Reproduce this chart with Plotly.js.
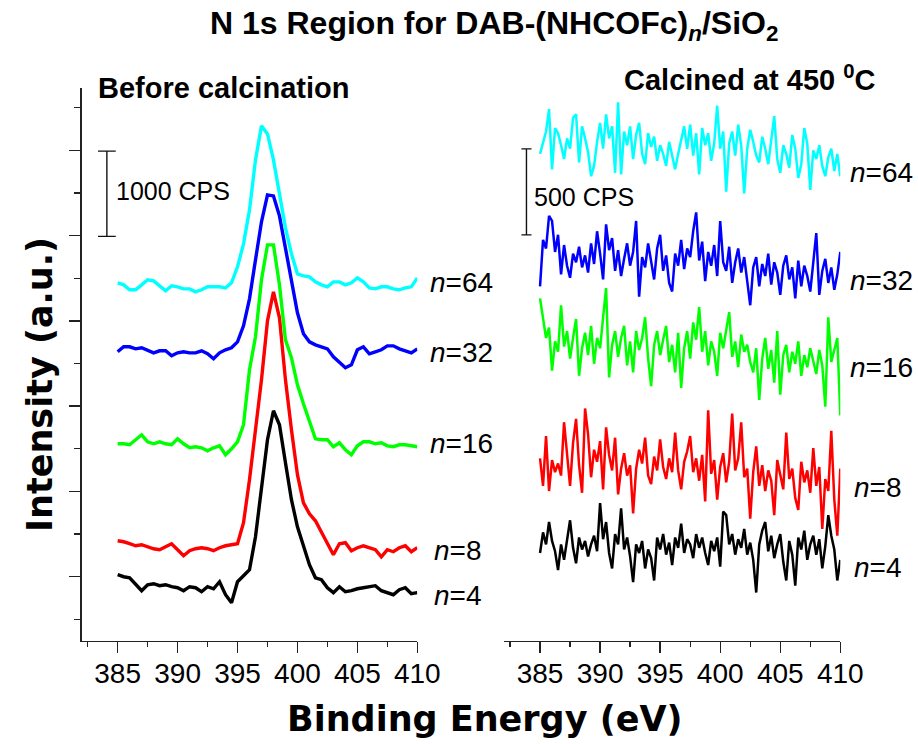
<!DOCTYPE html>
<html>
<head>
<meta charset="utf-8">
<script src="https://cdn.plot.ly/plotly-3.0.1.min.js"></script>
<style>html,body{margin:0;padding:0;background:#fff;}#chart{width:918px;height:744px;}</style>
</head>
<body>
<div id="chart"></div>
<script>
// ---------------- DATA ----------------
// Binding energy grids (eV)
const energyBefore = [385,385.5,386,386.5,387,387.5,388,388.5,389,389.5,390,390.5,391,391.5,392,392.5,393,393.5,394,394.5,395,395.5,396,396.5,397,397.5,398,398.5,399,399.5,400,400.5,401,401.5,402,402.5,403,403.5,404,404.5,405,405.5,406,406.5,407,407.5,408,408.5,409,409.5,410];
const energyCalcined = [385,385.25,385.5,385.75,386,386.25,386.5,386.75,387,387.25,387.5,387.75,388,388.25,388.5,388.75,389,389.25,389.5,389.75,390,390.25,390.5,390.75,391,391.25,391.5,391.75,392,392.25,392.5,392.75,393,393.25,393.5,393.75,394,394.25,394.5,394.75,395,395.25,395.5,395.75,396,396.25,396.5,396.75,397,397.25,397.5,397.75,398,398.25,398.5,398.75,399,399.25,399.5,399.75,400,400.25,400.5,400.75,401,401.25,401.5,401.75,402,402.25,402.5,402.75,403,403.25,403.5,403.75,404,404.25,404.5,404.75,405,405.25,405.5,405.75,406,406.25,406.5,406.75,407,407.25,407.5,407.75,408,408.25,408.5,408.75,409,409.25,409.5,409.75,410];

const seriesNames = ["n=4","n=8","n=16","n=32","n=64"];
const seriesLabels = ["<i>n</i>=4","<i>n</i>=8","<i>n</i>=16","<i>n</i>=32","<i>n</i>=64"];
const seriesColors = ["#000000","#ff0000","#00ff00","#0000ff","#00ffff"];

// Before calcination (CPS, stacked with offsets)
const before_n4 = [774,750,738,668,586,656,668,645,656,633,621,586,633,621,574,633,609,691,539,445,691,762,832,1219,1781,2356,2696,2532,2086,1653,1336,1102,891,738,715,621,563,633,574,586,609,621,633,645,586,563,539,598,621,551,563];
const before_n8 = [1172,1160,1137,1113,1125,1102,1078,1067,1102,1137,1067,996,1055,1078,1090,1078,1055,1090,1113,1125,1137,1383,1887,2473,3059,3750,4090,3786,3059,2473,1946,1617,1488,1406,1277,1149,1008,1137,1149,1055,1090,1113,1090,1067,984,1067,1043,1090,1113,1043,1090];
const before_n16 = [2309,2309,2297,2356,2414,2332,2309,2332,2309,2297,2367,2309,2262,2274,2262,2227,2262,2285,2180,2250,2332,2532,3176,3563,4231,4641,4641,4172,3528,3317,3000,2778,2567,2367,2356,2356,2274,2321,2239,2180,2285,2332,2332,2309,2321,2285,2274,2297,2297,2285,2274];
const before_n32 = [3387,3446,3446,3422,3434,3399,3375,3399,3399,3340,3375,3387,3375,3375,3399,3364,3305,3375,3411,3434,3504,3692,4008,4465,4911,5227,5215,4981,4618,4207,3844,3598,3504,3469,3446,3422,3328,3270,3200,3235,3411,3446,3364,3387,3411,3457,3457,3422,3399,3375,3422];
const before_n64 = [4196,4172,4114,4114,4172,4231,4219,4161,4102,4161,4149,4125,4125,4090,4114,4149,4149,4149,4137,4196,4383,4653,5051,5637,6036,5942,5637,5227,4840,4536,4301,4278,4266,4207,4172,4149,4207,4207,4172,4196,4254,4207,4137,4125,4149,4149,4125,4114,4137,4149,4254];

// Calcined at 450 C (CPS, stacked with offsets)
const calc_n4 = [510,630,560,690,580,520,410,560,470,600,
  700,540,450,600,530,580,490,560,610,520,
  800,590,690,510,420,620,560,770,530,600,
  490,340,560,510,580,420,530,480,350,600,
  530,620,500,570,440,600,540,680,510,590,
  560,480,620,540,600,510,440,580,520,600,
  430,750,730,560,620,500,590,540,650,500,
  570,470,280,560,640,690,520,610,480,560,
  620,460,350,580,500,320,600,530,640,470,
  560,610,500,590,420,550,730,610,530,350,470];
const calc_n8 = [1060,900,1190,870,1050,980,1030,960,1270,1080,
  900,1150,1290,1020,860,1350,1200,950,1110,1040,
  1160,880,1240,1080,990,1180,850,1000,1090,960,
  1020,740,1000,1110,1030,1180,960,910,1070,990,
  1170,1010,940,1060,980,1210,990,880,1040,1100,
  1190,980,1060,930,1080,810,1340,970,1050,820,
  1010,1090,920,1040,1320,990,1060,1270,950,1000,
  710,980,1130,900,1020,870,990,930,730,1050,
  960,880,1210,940,1000,830,760,1040,920,990,
  860,1120,900,1010,650,940,870,1220,820,610,1000];
const calc_n16 = [1990,1880,1760,1820,1570,1740,1680,1950,1710,1800,
  1640,1760,1870,1540,1700,1790,1660,1830,1610,1760,
  1700,1880,2050,1530,1720,1800,1650,1760,1830,1600,
  1740,1560,1800,1690,1760,1880,1640,1480,1720,1800,
  1660,1750,1830,1620,1720,1560,1790,1470,1700,1800,
  1640,1850,1750,1940,1680,1800,1600,1740,1680,1540,
  1790,1700,1820,1910,1650,1740,1590,1780,1680,1720,
  1620,1560,1700,1400,1640,1760,1580,1690,1500,1800,
  1430,1660,1720,1560,1680,1610,1740,1540,1660,1590,
  1700,1620,1550,1690,1600,1360,1880,1620,1700,1760,1310];
const calc_n32 = [2060,2330,2280,2470,2440,2260,2360,2130,2300,2180,
  2110,2250,2200,2290,2170,2240,2140,2310,2190,2380,
  2250,2100,2420,2270,2340,2150,2270,2120,2220,2310,
  2180,2260,2440,2000,2230,2170,2310,2200,2100,2280,
  2360,2150,2240,2080,2030,2250,2180,2330,2160,2280,
  2230,2380,2490,2210,2320,2090,2260,2180,2300,2120,
  2440,2200,2150,2290,2080,2200,2280,2140,2230,2090,
  1950,2170,2230,2060,2190,2120,2250,2070,2200,2140,
  2010,2180,2240,2100,2170,1990,2210,2060,2180,2120,
  2030,2200,2370,2010,2150,2220,2080,2170,2040,2130,2260];
const calc_n64 = [2830,2900,2960,3090,2740,2980,2950,2880,2800,2920,
  2860,3040,3060,2780,2990,2920,2840,2700,2760,2900,
  3010,2860,3060,2920,2990,2720,3130,2710,2960,2880,
  2990,2800,2940,3010,2830,2770,2950,2870,2930,2790,
  2880,2830,2760,2900,2810,2740,2830,2920,2990,2860,
  3000,2820,2950,2710,2980,2880,2950,2790,2890,3110,
  2860,2960,2610,2890,2960,2820,3000,2880,2600,2860,
  2970,2900,2820,2780,2930,2860,2770,2910,3050,2800,
  2720,2880,2830,2750,2940,2860,2690,2770,2980,2890,
  2620,2850,2800,2880,2760,2700,2810,2860,2730,2830,2700];

const xTickValues = [385,390,395,400,405,410];
const scaleBarBefore = 1000; // CPS
const scaleBarCalcined = 500; // CPS

// ---------------- LAYOUT HELPERS ----------------
const W = 918, H = 744;
const px = x => x / W;
const py = y => 1 - y / H;
const FONT = "Liberation Sans, Arial, Helvetica, sans-serif";
const BOLDFONT = "DejaVu Sans, Liberation Sans, Arial, sans-serif";
const AX = "#222";

const beforeSets = [before_n4, before_n8, before_n16, before_n32, before_n64];
const calcSets = [calc_n4, calc_n8, calc_n16, calc_n32, calc_n64];

const traces = [];
beforeSets.forEach((ys, i) => traces.push({
  x: energyBefore, y: ys, type: "scatter", mode: "lines", name: seriesNames[i] + " before",
  line: {color: seriesColors[i], width: 3.4}, xaxis: "x", yaxis: "y", hoverinfo: "skip"
}));
calcSets.forEach((ys, i) => traces.push({
  x: energyCalcined, y: ys, type: "scatter", mode: "lines", name: seriesNames[i] + " calcined",
  line: {color: seriesColors[i], width: 2.5}, xaxis: "x2", yaxis: "y2", hoverinfo: "skip"
}));

const yDom = [(H - 640.7) / H, (H - 88) / H];
function xAxisDef(domain, anchor) {
  return {
    domain: domain, anchor: anchor, range: [382, 410], showline: true, linecolor: AX, linewidth: 1.3,
    tickmode: "array", tickvals: xTickValues, ticktext: xTickValues.map(String),
    ticks: "outside", ticklen: 11, tickwidth: 1.3, tickcolor: AX, ticklabelstandoff: -4,
    tickfont: {family: FONT, size: 28, color: "#000"},
    showgrid: false, zeroline: false, fixedrange: true,
    minor: {ticks: "outside", ticklen: 5, tickwidth: 1.3, tickcolor: AX, dtick: 2.5, tick0: 380, showgrid: false}
  };
}

const annotations = [];
function ann(text, x, y, size, opts) {
  annotations.push(Object.assign({
    text: text, xref: "paper", yref: "paper", x: px(x), y: py(y), showarrow: false,
    xanchor: "left", yanchor: "middle", font: {family: FONT, size: size, color: "#000"}
  }, opts || {}));
}
ann("<b>N 1s Region for DAB-(NHCOFc)<sub><i>n</i></sub>/SiO<sub>2</sub></b>", 494, 26, 32, {xanchor: "center"});
ann("<b>Before calcination</b>", 96, 88, 29);
ann("<b>Calcined at 450 <sup>0</sup>C</b>", 622, 78, 29);
ann("1000 CPS", 114, 191, 25);
ann("500 CPS", 532, 197, 25);
const leftLabelPos = [[432,595],[432,550],[428,443],[428,352],[428,282]];
const rightLabelPos = [[852,567],[852,487],[848,367],[848,280],[848,172]];
seriesLabels.forEach((t, i) => {
  ann(t, leftLabelPos[i][0], leftLabelPos[i][1], 28);
  ann(t, rightLabelPos[i][0], rightLabelPos[i][1], 28);
});
ann("<b>Binding Energy (eV)</b>", 485, 719, 35, {xanchor: "center", font: {family: BOLDFONT, size: 35, color: "#000"}});
ann("<b>Intensity (a.u.)</b>", 40, 385, 35, {xanchor: "center", textangle: -90, font: {family: BOLDFONT, size: 35, color: "#000"}});

// scale bars (data coordinates)
const shapes = [];
function scaleBar(xref, yref, xc, capHalf, y0, len) {
  const ln = {color: "#111", width: 1.4};
  shapes.push({type: "line", xref, yref, x0: xc, x1: xc, y0: y0, y1: y0 + len, line: ln});
  shapes.push({type: "line", xref, yref, x0: xc - capHalf, x1: xc + capHalf, y0: y0, y1: y0, line: ln});
  shapes.push({type: "line", xref, yref, x0: xc - capHalf, x1: xc + capHalf, y0: y0 + len, y1: y0 + len, line: ln});
}
scaleBar("x", "y", 384.1, 0.74, 4740, scaleBarBefore);
scaleBar("x2", "y2", 383.87, 0.42, 2359, scaleBarCalcined);

const layout = {
  width: W, height: H, margin: {l: 0, r: 0, t: 0, b: 0},
  paper_bgcolor: "#fff", plot_bgcolor: "rgba(0,0,0,0)", showlegend: false,
  xaxis: xAxisDef([81.7 / W, 417.3 / W], "y"),
  xaxis2: xAxisDef([504 / W, 840.3 / W], "y2"),
  yaxis: {
    domain: yDom, anchor: "x", range: [0, 6480], showline: true, linecolor: AX, linewidth: 1.3,
    tickmode: "linear", tick0: 750, dtick: 1000, ticks: "outside", ticklen: 11, tickwidth: 1.3, tickcolor: AX,
    showticklabels: false, showgrid: false, zeroline: false, fixedrange: true,
    minor: {ticks: "outside", ticklen: 6, tickwidth: 1.3, tickcolor: AX, tick0: 250, dtick: 500, showgrid: false}
  },
  yaxis2: {domain: yDom, anchor: "x2", range: [0, 3213], visible: false, fixedrange: true},
  annotations: annotations, shapes: shapes
};

Plotly.newPlot("chart", traces, layout, {displayModeBar: false, staticPlot: true});
</script>
</body>
</html>
